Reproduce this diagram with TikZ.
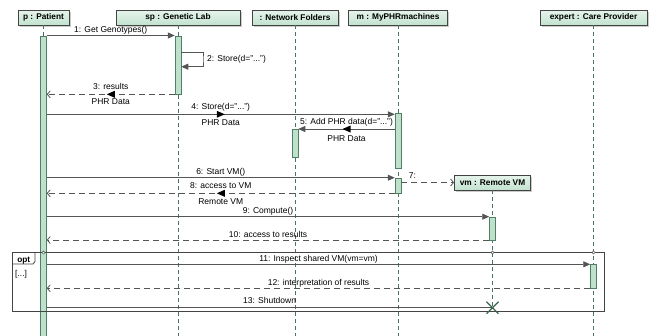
\documentclass[tikz,border=0pt]{standalone}
\usepackage{fontspec}
\setmainfont{Liberation Sans}
\usetikzlibrary{arrows.meta,shadows,calc}
\definecolor{mint}{HTML}{C2E3CF}
\definecolor{actfill}{HTML}{BFE0CB}
\definecolor{actdraw}{HTML}{4E8063}
\definecolor{lifec}{HTML}{4A7363}
\definecolor{msgc}{HTML}{555555}
\definecolor{framec}{HTML}{444444}
\definecolor{xcol}{HTML}{3A6650}
\tikzset{
  head/.style={draw=framec, line width=0.8pt, top color=mint!40, bottom color=mint,
    minimum height=15pt, inner sep=0pt, font=\fontsize{8.3}{9}\selectfont\bfseries,
    drop shadow={shadow xshift=1.5pt, shadow yshift=-1.5pt, fill=black!45, opacity=0.45}},
  act/.style={draw=actdraw, fill=actfill, line width=0.7pt, minimum width=5.8pt, inner sep=0pt, anchor=north},
  life/.style={draw=lifec, dash pattern=on 4pt off 3pt, line width=0.8pt},
  msg/.style={draw=msgc, line width=0.9pt, -{Triangle[length=7pt,width=6pt]}},
  ret/.style={draw=msgc, line width=0.8pt, dash pattern=on 6pt off 4pt, -{Straight Barb[length=3pt,width=7pt]}},
  lbl/.style={font=\fontsize{8.5}{9}\selectfont, inner sep=0pt, anchor=base},
  frame/.style={draw=framec, line width=0.8pt},
}
\begin{document}
\begin{tikzpicture}[x=1pt,y=-1pt]
\useasboundingbox (0,0) rectangle (652,335);
% message levels
\coordinate (bot) at (0,336);
\coordinate (y1) at (0,35.5);
\coordinate (y2a) at (0,52);
\coordinate (y2b) at (0,66.7);
\coordinate (s2) at (203,59);
\coordinate (y3) at (0,94.3);
\coordinate (y4) at (0,114.3);
\coordinate (y5) at (0,129);
\coordinate (y6) at (0,177.7);
\coordinate (y8) at (0,193.3);
\coordinate (y9) at (0,216.7);
\coordinate (y10) at (0,240);
\coordinate (yopt) at (0,252.5);
\coordinate (y11) at (0,264.3);
\coordinate (y12) at (0,288.3);
\coordinate (y13) at (0,307.7);

% headers
\node[head, minimum width=51pt] (p) at (43.5,17.5) {p : Patient};
\node[head, minimum width=124pt] (sp) at (178,17.5) {sp : Genetic Lab};
\node[head, minimum width=86pt] (nf) at (295,17.5) {: Network Folders};
\node[head, minimum width=99pt] (m) at (398,17.5) {m : MyPHRmachines};
\node[head, minimum width=107pt] (ex) at (593.5,17.5) {expert : Care Provider};
\node[head, minimum width=76pt] (vm) at (492.5,182.5) {vm : Remote VM};

\coordinate (xend) at (vm.south |- y13);

% lifelines
\draw[life] (p.south) -- (p.south |- bot);
\draw[life] (sp.south) -- (sp.south |- bot);
\draw[life] (nf.south) -- (nf.south |- bot);
\draw[life] (m.south) -- (m.south |- bot);
\draw[life] (ex.south) -- (ex.south |- bot);
\draw[life] (vm.south) -- (xend);

% activation bars
\node[act, minimum height=305pt] (pact) at (p.south |- y1) {};
\node[act, minimum height=58.8pt] (spact) at (sp.south |- y1) {};
\node[act, minimum height=28.3pt] (nfact) at (nf.south |- y5) {};
\node[act, minimum height=55.3pt] (mact1) at ($(m.south |- y4)+(0,-1.3)$) {};
\node[act, minimum height=15.6pt] (mact2) at (m.south |- y6) {};
\node[act, minimum height=23.3pt] (vmact) at (vm.south |- y9) {};
\node[act, minimum height=24pt] (eact) at (ex.south |- y11) {};

% opt frame
\draw[frame] (12.3,252.3) rectangle (604,311);
\draw[frame] (12.3,264) -- (33,264) -- (35,261.5) -- (35,252.3);
\node[lbl, font=\fontsize{8.3}{9}\selectfont\bfseries] (opt) at (23.8,262.3) {opt};
\node[lbl, anchor=base west] (guard) at (15,276) {[...]};

% 1
\draw[msg] (pact.east |- y1) -- (spact.west |- y1)
  node[lbl, midway, yshift=2.8pt] (l1) {1: Get Genotypes()};
% 2
\draw[msg] (spact.east |- y2a) -| (s2) |- (spact.east |- y2b);
\node[lbl, anchor=west, xshift=4pt] (l2) at (s2) {2: Store(d="...")};
% 3
\draw[ret] (spact.west |- y3) -- (pact.east |- y3)
  node[lbl, midway, yshift=5pt] (l3) {3: results}
  node[lbl, midway, yshift=-10.5pt] (d3) {PHR Data};
\fill[black] ($(spact.west |- y3)!0.5!(pact.east |- y3)$) ++(-4,0) -- ++(8,-3.5) -- ++(0,7) -- cycle;
% 4
\draw[msg] (pact.east |- y4) -- (mact1.west |- y4)
  node[lbl, midway, yshift=5.2pt] (l4) {4: Store(d="...")}
  node[lbl, midway, yshift=-11pt] (d4) {PHR Data};
\fill[black] ($(pact.east |- y4)!0.5!(mact1.west |- y4)$) ++(4,0) -- ++(-8,-3.5) -- ++(0,7) -- cycle;
% 5
\draw[msg] (mact1.west |- y5) -- (nfact.east |- y5)
  node[lbl, midway, yshift=4.6pt] (l5) {5: Add PHR data(d="...")}
  node[lbl, midway, yshift=-12pt] (d5) {PHR Data};
\fill[black] ($(mact1.west |- y5)!0.5!(nfact.east |- y5)$) ++(-4,0) -- ++(8,-3.5) -- ++(0,7) -- cycle;
% 6
\draw[msg] (pact.east |- y6) -- (mact2.west |- y6)
  node[lbl, midway, yshift=3.2pt] (l6) {6: Start VM()};
% 7
\draw[ret] (mact2.east |- vm.west) -- (vm.west)
  node[lbl, pos=0.21, yshift=3.6pt] (l7) {7:};
% 8
\draw[ret] (mact2.west |- y8) -- (pact.east |- y8)
  node[lbl, midway, yshift=4.4pt] (l8) {8: access to VM}
  node[lbl, midway, yshift=-11.2pt] (d8) {Remote VM};
\fill[black] ($(mact2.west |- y8)!0.5!(pact.east |- y8)$) ++(-4,0) -- ++(8,-3.5) -- ++(0,7) -- cycle;
% 9
\draw[msg] (pact.east |- y9) -- (vmact.west |- y9)
  node[lbl, midway, yshift=3.2pt] (l9) {9: Compute()};
% 10
\draw[ret] (vmact.west |- y10) -- (pact.east |- y10)
  node[lbl, midway, yshift=3pt] (l10) {10: access to results};
% 11
\draw[msg] (pact.east |- y11) -- (eact.west |- y11)
  node[lbl, midway, yshift=3.2pt] (l11) {11: Inspect shared VM(vm=vm)};
% 12
\draw[ret] (eact.west |- y12) -- (pact.east |- y12)
  node[lbl, midway, yshift=3.2pt] (l12) {12: interpretation of results};
% 13
\draw[draw=msgc, line width=0.9pt] (pact.east |- y13) -- (xend)
  node[lbl, midway, yshift=4.6pt] (l13) {13: Shutdown};
\draw[xcol, line width=1.3pt] (xend) ++(-6,-6) -- ++(12,12) (xend) ++(-6,6) -- ++(12,-12);

% combined fragment markers
\draw[framec, fill=white, line width=0.5pt] (p.south |- yopt) circle[radius=1.6pt];
\draw[framec, fill=white, line width=0.5pt] (vm.south |- yopt) circle[radius=1.6pt];
\draw[framec, fill=white, line width=0.5pt] (ex.south |- yopt) circle[radius=1.6pt];
\end{tikzpicture}
\end{document}
